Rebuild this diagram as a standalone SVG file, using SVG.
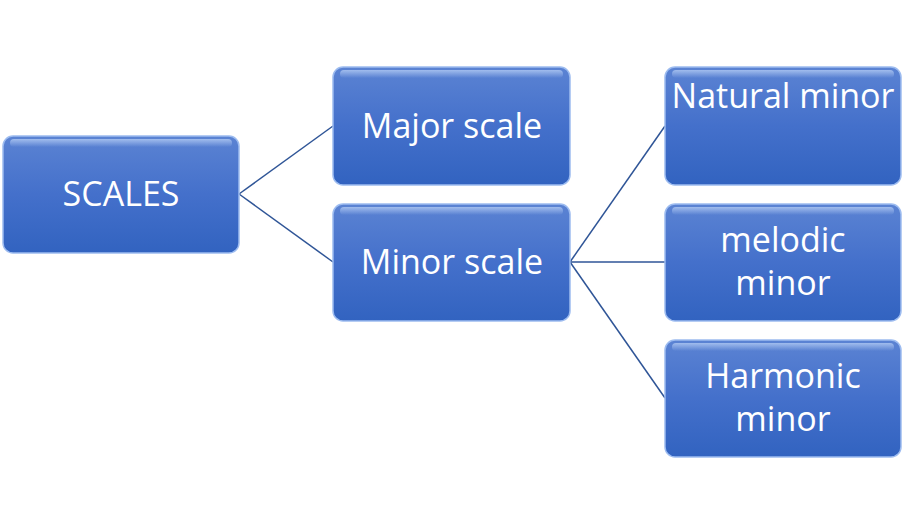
<svg xmlns="http://www.w3.org/2000/svg" width="920" height="525" viewBox="0 0 920 525">
<defs>
<linearGradient id="g" x1="0" y1="0" x2="0" y2="1">
<stop offset="0" stop-color="#5b83d3"/>
<stop offset="0.5" stop-color="#4470cb"/>
<stop offset="1" stop-color="#3263c0"/>
</linearGradient>
<linearGradient id="hl" x1="0" y1="0" x2="0" y2="1">
<stop offset="0" stop-color="#a9c3f0" stop-opacity="0.9"/>
<stop offset="1" stop-color="#a9c3f0" stop-opacity="0"/>
</linearGradient>
</defs>
<style>
.box{fill:url(#g);stroke:#9dbcf0;stroke-width:1.5}
.hi{fill:url(#hl)}
.t{font-family:"Open Sans","Liberation Sans",sans-serif;font-size:34px;fill:#ffffff;text-anchor:middle}
.c{stroke:#2f5597;stroke-width:1.5;fill:none}
</style>
<g id="connectors">
<line class="c" x1="239" y1="194" x2="333" y2="126"/>
<line class="c" x1="239" y1="194" x2="333" y2="262"/>
<line class="c" x1="570" y1="262" x2="665" y2="126"/>
<line class="c" x1="570" y1="262" x2="665" y2="262"/>
<line class="c" x1="570" y1="262" x2="665" y2="398"/>
</g>
<g id="scales">
<rect class="box" x="3" y="136" width="236" height="117" rx="10"/>
<rect class="hi" x="10" y="139" width="222" height="8" rx="4"/>
<text class="t" x="121" y="206">SCALES</text>
</g>
<g id="major">
<rect class="box" x="333" y="67" width="237" height="118" rx="10"/>
<rect class="hi" x="340" y="70" width="223" height="8" rx="4"/>
<text class="t" x="452" y="138">Major scale</text>
</g>
<g id="minor">
<rect class="box" x="333" y="204" width="237" height="117" rx="10"/>
<rect class="hi" x="340" y="207" width="223" height="8" rx="4"/>
<text class="t" x="452" y="274">Minor scale</text>
</g>
<g id="natural">
<rect class="box" x="665" y="67" width="236" height="118" rx="10"/>
<rect class="hi" x="672" y="70" width="222" height="8" rx="4"/>
<text class="t" x="783" y="108">Natural minor</text>
</g>
<g id="melodic">
<rect class="box" x="665" y="204" width="236" height="117" rx="10"/>
<rect class="hi" x="672" y="207" width="222" height="8" rx="4"/>
<text class="t" x="783" y="252">melodic</text>
<text class="t" x="783" y="295">minor</text>
</g>
<g id="harmonic">
<rect class="box" x="665" y="340" width="236" height="117" rx="10"/>
<rect class="hi" x="672" y="343" width="222" height="8" rx="4"/>
<text class="t" x="783" y="388">Harmonic</text>
<text class="t" x="783" y="431">minor</text>
</g>
</svg>
